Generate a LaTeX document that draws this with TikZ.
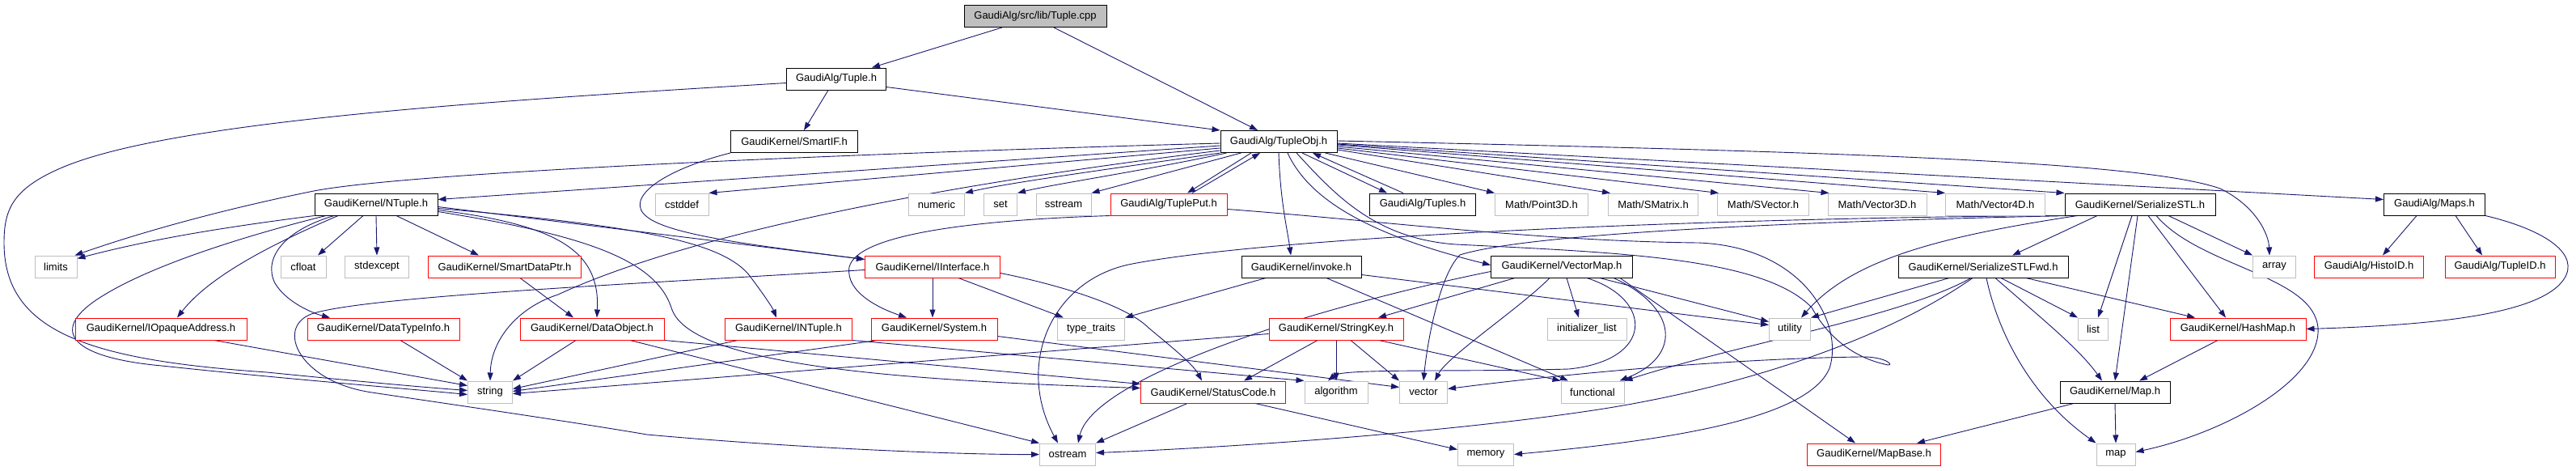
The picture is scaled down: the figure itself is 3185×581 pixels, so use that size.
\documentclass[tikz,border=0pt]{standalone}
\usepackage{fontspec}
\newfontfamily\dfont{Liberation Sans}
\usetikzlibrary{arrows.meta}
\definecolor{edgeblue}{HTML}{191970}
\definecolor{sysgray}{HTML}{BFBFBF}
\pgfdeclarelayer{bgzero}
\pgfdeclarelayer{background}
\pgfsetlayers{bgzero,background,main}
\tikzset{
  box/.style={draw=black, line width=1pt, minimum height=27pt, inner sep=0pt, fill=white, font={\dfont\fontsize{13}{15}\selectfont}},
  redbox/.style={box, draw=red},
  sysbox/.style={box, draw=sysgray},
  rootbox/.style={box, fill=sysgray},
  edge/.style={draw=edgeblue, line width=0.9pt, -{Triangle[length=10pt,width=7pt]}}
}
\begin{document}
\begin{tikzpicture}[x=1pt,y=-1pt]
\begin{pgfonlayer}{bgzero}
\fill[white] (0,0) rectangle (3185,581);
\end{pgfonlayer}
\useasboundingbox (0,0) rectangle (3185,581);
% row 1-3
\node[rootbox, minimum width=176pt] (cpp) at (1280,20) {GaudiAlg/src/lib/Tuple.cpp};
\node[box, minimum width=123pt] (tupleh) at (1034,97.5) {GaudiAlg/Tuple.h};
\node[box, minimum width=157pt] (smartif) at (982,175) {GaudiKernel/SmartIF.h};
\node[box, minimum width=144pt] (tupleobj) at (1581,175) {GaudiAlg/TupleObj.h};
% row 4
\node[box, minimum width=152pt] (ntuple) at (465,252.5) {GaudiKernel/NTuple.h};
\node[sysbox, minimum width=66pt] (cstddef) at (843,252.5) {cstddef};
\node[sysbox, minimum width=69pt] (numeric) at (1158,252.5) {numeric};
\node[sysbox, minimum width=41pt] (set) at (1237,252.5) {set};
\node[sysbox, minimum width=68pt] (sstream) at (1315,252.5) {sstream};
\node[redbox, minimum width=144pt] (tupleput) at (1445,252.5) {GaudiAlg/TuplePut.h};
\node[box, minimum width=131pt] (tuples) at (1759,252.5) {GaudiAlg/Tuples.h};
\node[sysbox, minimum width=115pt] (point3d) at (1906,252.5) {Math/Point3D.h};
\node[sysbox, minimum width=111pt] (smatrix) at (2044,252.5) {Math/SMatrix.h};
\node[sysbox, minimum width=113pt] (svector) at (2180,252.5) {Math/SVector.h};
\node[sysbox, minimum width=122pt] (vector3d) at (2321,252.5) {Math/Vector3D.h};
\node[sysbox, minimum width=123pt] (vector4d) at (2467,252.5) {Math/Vector4D.h};
\node[box, minimum width=186pt] (serstl) at (2646,252.5) {GaudiKernel/SerializeSTL.h};
\node[box, minimum width=125pt] (maps) at (3010,252.5) {GaudiAlg/Maps.h};
% row 5
\node[sysbox, minimum width=52pt] (limits) at (69,329.5) {limits};
\node[sysbox, minimum width=56pt] (cfloat) at (375,329.5) {cfloat};
\node[sysbox, minimum width=79pt] (stdexcept) at (466,329.5) {stdexcept};
\node[redbox, minimum width=189pt] (smartdataptr) at (624,329.5) {GaudiKernel/SmartDataPtr.h};
\node[redbox, minimum width=167pt] (iinterface) at (1153,329.5) {GaudiKernel/IInterface.h};
\node[box, minimum width=148pt] (invoke) at (1609,329.5) {GaudiKernel/invoke.h};
\node[box, minimum width=175pt] (vectormap) at (1931,329.5) {GaudiKernel/VectorMap.h};
\node[box, minimum width=210pt] (serstlfwd) at (2452,329.5) {GaudiKernel/SerializeSTLFwd.h};
\node[sysbox, minimum width=53pt] (array) at (2812,329.5) {array};
\node[redbox, minimum width=135pt] (histoid) at (2929,329.5) {GaudiAlg/HistoID.h};
\node[redbox, minimum width=136pt] (tupleid) at (3091,329.5) {GaudiAlg/TupleID.h};
% row 6
\node[redbox, minimum width=212pt] (iopaque) at (199,406.5) {GaudiKernel/IOpaqueAddress.h};
\node[redbox, minimum width=188pt] (datatypeinfo) at (474,406.5) {GaudiKernel/DataTypeInfo.h};
\node[redbox, minimum width=178pt] (dataobject) at (732,406.5) {GaudiKernel/DataObject.h};
\node[redbox, minimum width=157pt] (intuple) at (975,406.5) {GaudiKernel/INTuple.h};
\node[redbox, minimum width=156pt] (system) at (1155,406.5) {GaudiKernel/System.h};
\node[sysbox, minimum width=83pt] (typetraits) at (1349,406.5) {type\_traits};
\node[redbox, minimum width=166pt] (stringkey) at (1652,406.5) {GaudiKernel/StringKey.h};
\node[sysbox, minimum width=98pt] (initlist) at (1962,406.5) {initializer\_list};
\node[sysbox, minimum width=51pt] (utility) at (2213,406.5) {utility};
\node[sysbox, minimum width=37pt] (list) at (2588,406.5) {list};
\node[redbox, minimum width=168pt] (hashmap) at (2767,406.5) {GaudiKernel/HashMap.h};
% row 7
\node[sysbox, minimum width=55pt] (string) at (606,484.5) {string};
\node[redbox, minimum width=179pt] (statuscode) at (1500,484.5) {GaudiKernel/StatusCode.h};
\node[sysbox, minimum width=78pt] (algorithm) at (1652,484.5) {algorithm};
\node[sysbox, minimum width=59pt] (vector) at (1760,484.5) {vector};
\node[sysbox, minimum width=78pt] (functional) at (1969,484.5) {functional};
\node[box, minimum width=136pt] (maph) at (2615,484.5) {GaudiKernel/Map.h};
% row 8
\node[sysbox, minimum width=69pt] (ostream) at (1320,561.5) {ostream};
\node[sysbox, minimum width=69pt] (memory) at (1837,561.5) {memory};
\node[redbox, minimum width=165pt] (mapbase) at (2317,561.5) {GaudiKernel/MapBase.h};
\node[sysbox, minimum width=48pt] (map) at (2616,561.5) {map};

\begin{pgfonlayer}{background}
% Tuple.cpp
\draw[edge] ([xshift=-41pt]cpp.south) -- ([xshift=44pt]tupleh.north);
\draw[edge] ([xshift=23pt]cpp.south) -- ([xshift=-26pt]tupleobj.north);
% Tuple.h
\draw[edge] ([yshift=-5pt]tupleh.west) .. controls (600,125) and (200,150) .. (70,210) .. controls (15,235) and (5,260) .. (5,300) .. controls (5,410) and (110,445) .. (330,460) .. controls (450,472) and (530,479) .. ([yshift=2pt]string.west);
\draw[edge] ([yshift=-10pt]tupleh.east) -- (tupleobj.north west);
\draw[edge] ([xshift=-10pt]tupleh.south) -- ([xshift=12pt]smartif.north);
% SmartIF
\draw[edge] (smartif.south west) .. controls (820,210) and (770,245) .. (800,268) .. controls (830,292) and (950,305) .. ([yshift=9pt]iinterface.west);
% TupleObj
\draw[edge] ([yshift=-2pt]tupleobj.west) .. controls (1100,188) and (500,212) .. (383,237) .. controls (280,258) and (180,285) .. ([xshift=-3pt]limits.north east);
\draw[edge] ([yshift=-5pt]tupleobj.west) -- ([yshift=6pt]ntuple.east);
\draw[edge] ([yshift=-8pt]tupleobj.west) -- (cstddef.north east);
\draw[edge] ([yshift=-11pt]tupleobj.west) .. controls (1150,230) and (850,290) .. (690,364) .. controls (640,380) and (607,420) .. (string.north);
\draw[edge] (tupleobj.south west) .. controls (1400,205) and (1250,225) .. (numeric.north east);
\draw[edge] ([xshift=8pt]tupleobj.south west) .. controls (1420,210) and (1300,228) .. (set.north east);
\draw[edge] ([xshift=26pt]tupleobj.south west) -- (sstream.north east);
\draw[edge] ([xshift=-34pt]tupleobj.south) -- ([xshift=23pt]tupleput.north);
\draw[edge] ([xshift=29pt]tupleput.north) -- ([xshift=-23pt]tupleobj.south);
\draw[edge] (tupleobj.south) .. controls (1583,250) and (1592,285) .. ([xshift=-13pt]invoke.north);
\draw[edge] ([xshift=11pt]tupleobj.south) .. controls (1620,250) and (1700,292) .. ([yshift=2pt]vectormap.west);
\draw[edge] ([xshift=29pt]tupleobj.south) -- ([xshift=-44pt]tuples.north);
\draw[edge] ([xshift=-24pt]tuples.north) -- ([xshift=42pt]tupleobj.south);
\draw[edge] ([xshift=-15pt]tupleobj.south east) -- (point3d.north west);
\draw[edge] ([yshift=-10pt]tupleobj.east) -- ([xshift=3pt]smatrix.north west);
\draw[edge] ([yshift=-8pt]tupleobj.east) -- ([xshift=2pt]svector.north west);
\draw[edge] ([yshift=-6pt]tupleobj.east) -- ([xshift=2pt]vector3d.north west);
\draw[edge] ([yshift=-4pt]tupleobj.east) -- (vector4d.north west);
\draw[edge] ([yshift=-3pt]tupleobj.east) -- (serstl.north west);
\draw[edge] ([yshift=-2pt]tupleobj.east) -- ([yshift=6pt]maps.west);
\draw[edge] ([yshift=1pt]tupleobj.east) .. controls (2300,188) and (2650,200) .. (2745,233) .. controls (2790,255) and (2805,290) .. ([xshift=-6pt]array.north);
\draw[edge] ([xshift=22pt]tupleobj.south) .. controls (1650,240) and (1700,295) .. (1800,302) .. controls (2000,312) and (2180,318) .. (2240,380) .. controls (2262,420) and (2295,442) .. (2330,450) .. controls (2345,455) and (2335,440) .. (2300,441) .. controls (2150,443) and (1950,460) .. ([yshift=4pt]vector.east);
% TuplePut
\draw[edge] (tupleput.south west) .. controls (1200,272) and (1060,290) .. (1050,330) .. controls (1045,362) and (1090,382) .. ([xshift=-34pt]system.north);
\draw[edge] ([yshift=-6pt]tupleput.east) .. controls (1700,272) and (1900,298) .. (2100,300) .. controls (2230,305) and (2280,400) .. (2262,455) .. controls (2235,520) and (2050,545) .. (memory.east);
% NTuple
\draw[edge] (ntuple.south west) .. controls (300,278) and (200,292) .. ([yshift=-4pt]limits.north east);
\draw[edge] ([xshift=-62pt]ntuple.south) .. controls (300,292) and (180,330) .. (120,370) .. controls (60,410) and (90,442) .. (200,452) .. controls (350,468) and (500,480) .. ([yshift=-3pt]string.west);
\draw[edge] ([xshift=-47pt]ntuple.south) .. controls (340,300) and (260,340) .. ([xshift=20pt]iopaque.north);
\draw[edge] ([xshift=-52pt]ntuple.south) .. controls (350,285) and (325,320) .. (340,350) .. controls (355,375) and (390,388) .. ([xshift=-66pt]datatypeinfo.north);
\draw[edge] ([xshift=-16pt]ntuple.south) -- ([xshift=18pt]cfloat.north);
\draw[edge] (ntuple.south) -- (stdexcept.north);
\draw[edge] ([xshift=25pt]ntuple.south) -- ([xshift=-32pt]smartdataptr.north);
\draw[edge] ([yshift=-3pt]ntuple.east) -- ([yshift=9pt]iinterface.west);
\draw[edge] ([yshift=-5pt]ntuple.east) .. controls (800,280) and (900,300) .. (930,345) .. controls (945,365) and (955,380) .. ([xshift=-15pt]intuple.north);
\draw[edge] ([yshift=-7pt]ntuple.east) .. controls (690,278) and (742,310) .. ([xshift=6pt]dataobject.north);
\draw[edge] ([yshift=-9pt]ntuple.east) .. controls (720,290) and (810,320) .. (830,380) .. controls (850,450) and (1100,470) .. ([yshift=5pt]statuscode.west);
% IOpaqueAddress, DataTypeInfo, DataObject, SmartDataPtr
\draw[edge] ([xshift=66pt]iopaque.south) -- ([yshift=8pt]string.west);
\draw[edge] ([xshift=21pt]datatypeinfo.south) -- (string.north west);
\draw[edge] ([xshift=-20pt]dataobject.south) -- (string.north east);
\draw[edge] ([xshift=47pt]dataobject.south) -- (ostream.north west);
\draw[edge] (dataobject.south east) -- ([yshift=10pt]statuscode.west);
\draw[edge] ([xshift=19pt]smartdataptr.south) -- ([xshift=-23pt]dataobject.north);
% INTuple
\draw[edge] ([xshift=-63pt]intuple.south) -- ([yshift=4pt]string.east);
\draw[edge] (intuple.south east) -- (algorithm.north west);
% System
\draw[edge] ([xshift=-70pt]system.south) -- ([yshift=1pt]string.east);
\draw[edge] ([yshift=-9pt]system.east) -- ([yshift=6pt]vector.west);
% IInterface
\draw[edge] (iinterface.south) -- ([xshift=-2pt]system.north);
\draw[edge] ([xshift=32pt]iinterface.south) -- ([xshift=-34pt]typetraits.north);
\draw[edge] ([yshift=-8pt]iinterface.east) .. controls (1300,350) and (1390,375) .. (1420,405) .. controls (1450,430) and (1475,450) .. ([xshift=-14pt]statuscode.north);
\draw[edge] ([yshift=-4pt]iinterface.west) .. controls (800,350) and (450,366) .. (385,388) .. controls (340,405) and (370,472) .. (460,485) .. controls (560,500) and (700,520) .. (800,537) .. controls (1000,555) and (1200,562) .. (ostream.west);
% StatusCode
\draw[edge] ([xshift=-32pt]statuscode.south) -- (ostream.north east);
\draw[edge] ([xshift=52pt]statuscode.south) -- ([yshift=6pt]memory.west);
% StringKey
\draw[edge] ([yshift=-6pt]stringkey.west) -- ([yshift=-2pt]string.east);
\draw[edge] ([xshift=-23pt]stringkey.south) -- ([xshift=38pt]statuscode.north);
\draw[edge] (stringkey.south) -- (algorithm.north);
\draw[edge] ([xshift=18pt]stringkey.south) -- (vector.north west);
\draw[edge] ([xshift=53pt]stringkey.south) -- (functional.north west);
% invoke
\draw[edge] ([xshift=-44pt]invoke.south) -- (typetraits.north east);
\draw[edge] ([xshift=31pt]invoke.south) -- ([xshift=-30pt]functional.north);
\draw[edge] ([yshift=-10pt]invoke.east) -- ([yshift=5pt]utility.west);
% VectorMap
\draw[edge] ([xshift=-58pt]vectormap.south) -- ([xshift=52pt]stringkey.north);
\draw[edge] ([xshift=-15pt]vectormap.south) .. controls (1880,380) and (1790,440) .. ([xshift=14pt]vector.north);
\draw[edge] ([xshift=6pt]vectormap.south) -- ([xshift=-10pt]initlist.north);
\draw[edge] ([xshift=31pt]vectormap.south) .. controls (2045,370) and (2045,445) .. (1940,456) .. controls (1800,460) and (1660,455) .. ([xshift=-10pt]algorithm.north);
\draw[edge] ([xshift=64pt]vectormap.south) .. controls (2075,380) and (2080,440) .. ([xshift=-6pt]functional.north east);
\draw[edge] ([xshift=47pt]vectormap.south) -- ([yshift=9pt]utility.west);
\draw[edge] ([xshift=72pt]vectormap.south) -- ([xshift=-23pt]mapbase.north);
\draw[edge] ([yshift=-6pt]vectormap.west) .. controls (1600,385) and (1350,470) .. ([xshift=13pt]ostream.north);
% SerializeSTL
\draw[edge] ([xshift=-53pt]serstl.south) -- ([xshift=36pt]serstlfwd.north);
\draw[edge] ([xshift=-10pt]serstl.south) -- ([xshift=6pt]list.north);
\draw[edge] ([xshift=-3pt]serstl.south) -- (maph.north);
\draw[edge] ([xshift=10pt]serstl.south) -- ([xshift=-15pt]hashmap.north);
\draw[edge] ([xshift=35pt]serstl.south) -- (array.north west);
\draw[edge] ([xshift=20pt]serstl.south) .. controls (2720,330) and (2860,340) .. (2866,405) .. controls (2870,470) and (2750,535) .. ([yshift=3pt]map.east);
\draw[edge] ([xshift=16pt]serstl.south west) .. controls (2400,292) and (2290,320) .. ([xshift=14pt]utility.north);
\draw[edge] ([xshift=6pt]serstl.south west) .. controls (2300,272) and (1900,285) .. (1805,315) .. controls (1780,340) and (1765,420) .. (vector.north);
\draw[edge] (serstl.south west) .. controls (2200,268) and (1600,288) .. (1400,326) .. controls (1300,345) and (1255,450) .. ([xshift=-12pt]ostream.north);
% SerializeSTLFwd
\draw[edge] ([xshift=-42pt]serstlfwd.south) -- (utility.north east);
\draw[edge] ([xshift=-15pt]serstlfwd.south) .. controls (2350,392) and (2150,425) .. (functional.north east);
\draw[edge] ([xshift=-13pt]serstlfwd.south) .. controls (2330,420) and (2150,480) .. (1970,507) .. controls (1750,540) and (1450,556) .. ([yshift=2pt]ostream.east);
\draw[edge] ([xshift=22pt]serstlfwd.south) -- (list.north west);
\draw[edge] ([xshift=15pt]serstlfwd.south) .. controls (2520,390) and (2570,430) .. ([xshift=-16pt]maph.north);
\draw[edge] ([xshift=53pt]serstlfwd.south) -- ([xshift=-53pt]hashmap.north);
\draw[edge] ([xshift=4pt]serstlfwd.south) .. controls (2470,410) and (2510,490) .. (map.north west);
% HashMap, Map
\draw[edge] ([xshift=-25pt]hashmap.south) -- ([xshift=30pt]maph.north);
\draw[edge] (maph.south) -- (map.north);
\draw[edge] ([xshift=-51pt]maph.south) -- ([xshift=53pt]mapbase.north);
% Maps
\draw[edge] ([xshift=-22pt]maps.south) -- ([xshift=17pt]histoid.north);
\draw[edge] ([xshift=26pt]maps.south) -- ([xshift=-22pt]tupleid.north);
\draw[edge] (maps.south east) .. controls (3150,285) and (3190,315) .. (3170,345) .. controls (3140,390) and (3000,402) .. (hashmap.east);
\end{pgfonlayer}
\end{tikzpicture}
\end{document}
